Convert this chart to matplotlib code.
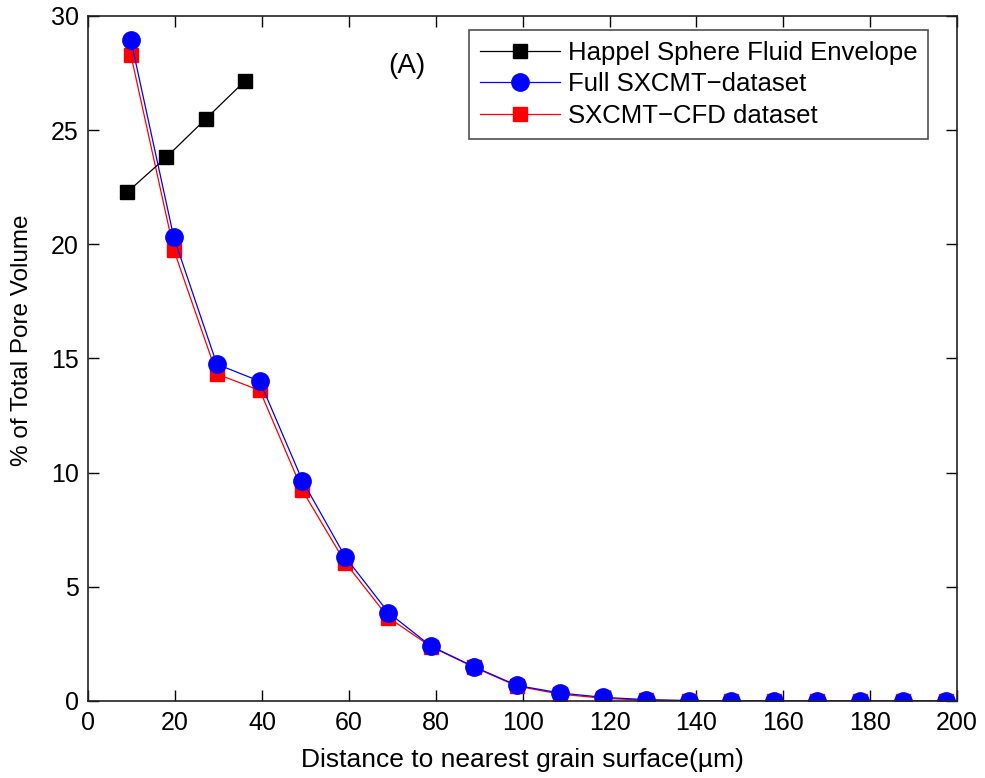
import matplotlib
matplotlib.use('Agg')
import matplotlib.pyplot as plt

plt.rcParams['font.family'] = ['Liberation Sans', 'DejaVu Sans']

# Happel sphere fluid envelope
happel_x = [8.9, 18.0, 27.0, 36.0]
happel_y = [22.27, 23.82, 25.48, 27.14]

# distance bins (um)
dist = [9.8, 19.7, 29.6, 39.5, 49.3, 59.2, 69.1, 78.9, 88.8, 98.7,
        108.6, 118.5, 128.3, 138.2, 148.0, 157.9, 167.8, 177.6, 187.5, 197.4]

full_y = [28.95, 20.3, 14.75, 14.0, 9.65, 6.3, 3.87, 2.4, 1.5, 0.68,
          0.35, 0.16, 0.06, 0.02, 0.01, 0.0, 0.0, 0.0, 0.0, 0.0]
cfd_y = [28.3, 19.75, 14.32, 13.6, 9.22, 6.05, 3.65, 2.38, 1.48, 0.65,
         0.3, 0.12, 0.03, 0.01, 0.0, 0.0, 0.0, 0.0, 0.0, 0.0]

fig = plt.figure(figsize=(9.85, 7.78), dpi=100)
ax = fig.add_axes([0.0896, 0.099, 0.882, 0.8805])

ax.plot(happel_x, happel_y, color='black', marker='s', markersize=9.5, linewidth=0.9,
        label='Happel Sphere Fluid Envelope')
ax.plot(dist, full_y, color='blue', marker='o', markersize=12.5, linewidth=0.9,
        label='Full SXCMT\u2212dataset')
ax.plot(dist, cfd_y, color='red', marker='s', markersize=9.5, linewidth=0.9,
        label='SXCMT\u2212CFD dataset', zorder=1.9)

ax.set_xlim(0, 200)
ax.set_ylim(0, 30)
ax.set_xticks(range(0, 201, 20))
ax.set_yticks(range(0, 31, 5))
ax.tick_params(direction='in', length=8, width=1, top=True, right=True,
               labelsize=18, pad=7)
for s in ax.spines.values():
    s.set_linewidth(1.2)
    s.set_color('#222222')

ax.set_xlabel('Distance to nearest grain surface(\u00b5m)', fontsize=19)
ax.set_ylabel('% of Total Pore Volume', fontsize=17.5)
ax.xaxis.set_label_coords(0.5, -0.0686)
ax.yaxis.set_label_coords(-0.0637, 0.527)

ax.text(0.345, 0.917, '(A)', transform=ax.transAxes, fontsize=20)

leg = ax.legend(loc='upper right', bbox_to_anchor=(0.9666, 0.9796), fontsize=18.5,
                frameon=True, fancybox=False, edgecolor='#222222', borderpad=0.42,
                handlelength=3.1, labelspacing=0.3, borderaxespad=0,
                handletextpad=0.3)
leg.get_frame().set_linewidth(1.2)

fig.savefig('out.png', dpi=100)
